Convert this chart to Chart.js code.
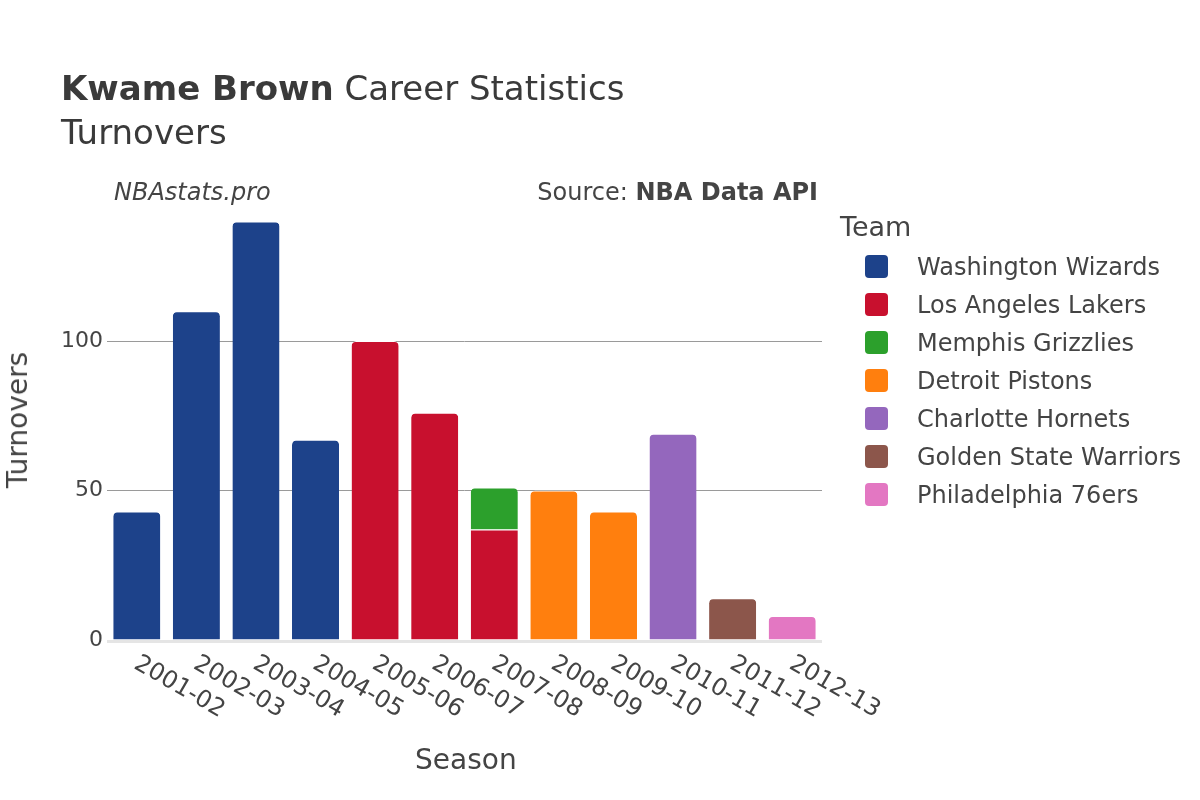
<!DOCTYPE html>
<html>
<head>
<meta charset="utf-8">
<script src="https://cdn.jsdelivr.net/npm/chart.js@4/dist/chart.umd.min.js"></script>
<style>
  body { margin: 0; background: #fff; font-family: "DejaVu Sans", sans-serif; color: #444; }
  #wrap { position: relative; width: 1200px; height: 800px; }
  #chart { position: absolute; left: 0; top: 0; }
  .txt { position: absolute; white-space: nowrap; line-height: 1; }
  .legend-row { position: absolute; left: 865px; height: 24px; }
  .legend-row .sw { position: absolute; left: 0; top: 0; width: 23px; height: 23px; border-radius: 4px; }
  .legend-row .lb { position: absolute; left: 52px; top: 0; font-size: 24px; line-height: 24px; color: #444; white-space: nowrap; }
</style>
</head>
<body>
<div id="wrap">
  <canvas id="chart" width="1200" height="800"></canvas>
  <div class="txt" style="left:61px; top:71px; font-size:34px; color:#3a3a3a;"><b>Kwame Brown</b> Career Statistics</div>
  <div class="txt" style="left:61px; top:115px; font-size:34px; color:#3a3a3a;">Turnovers</div>
  <div class="txt" style="left:114px; top:180px; font-size:24px; font-style:italic;">NBAstats.pro</div>
  <div class="txt" style="right:382px; top:180px; font-size:24px;">Source: <b>NBA Data API</b></div>
  <div class="txt" style="left:415px; top:746px; font-size:28px;">Season</div>
  <div class="txt" style="left:18px; top:420px; font-size:28px; transform: translate(-50%, -50%) rotate(-90deg);">Turnovers</div>
  <div class="txt" style="left:840px; top:213px; font-size:27px;">Team</div>
  <div id="legend"></div>
</div>
<script>
const seasons = ['2001-02', '2002-03', '2003-04', '2004-05', '2005-06', '2006-07',
  '2007-08', '2008-09', '2009-10', '2010-11', '2011-12', '2012-13'];

const teams = ['Washington Wizards', 'Los Angeles Lakers', 'Memphis Grizzlies', 'Detroit Pistons',
  'Charlotte Hornets', 'Golden State Warriors', 'Philadelphia 76ers'];

const teamColors = ['#1d428a', '#c8102e', '#2ca02c', '#ff7f0e', '#9467bd', '#8c564b', '#e377c2'];

// turnovers per season, one array per team (null = did not play for that team)
const wizards   = [43, 110, 140, 67, null, null, null, null, null, null, null, null];
const lakers    = [null, null, null, null, 100, 76, 37, null, null, null, null, null];
const grizzlies = [null, null, null, null, null, null, 14, null, null, null, null, null];
const pistons   = [null, null, null, null, null, null, null, 50, 43, null, null, null];
const hornets   = [null, null, null, null, null, null, null, null, null, 69, null, null];
const warriors  = [null, null, null, null, null, null, null, null, null, null, 14, null];
const sixers    = [null, null, null, null, null, null, null, null, null, null, null, 8];

const teamData = [wizards, lakers, grizzlies, pistons, hornets, warriors, sixers];

const yTicks = [0, 50, 100];

// legend
const legendEl = document.getElementById('legend');
teams.forEach((name, i) => {
  const row = document.createElement('div');
  row.className = 'legend-row';
  row.style.top = (255 + i * 38) + 'px';
  row.innerHTML = '<div class="sw" style="background:' + teamColors[i] + '"></div><div class="lb">' + name + '</div>';
  legendEl.appendChild(row);
});

// rotated season labels and the zero line
const seasonLabels = {
  id: 'seasonLabels',
  beforeDatasetsDraw(chart) {
    const ctx = chart.ctx;
    const area = chart.chartArea;
    const y0 = chart.scales.y.getPixelForValue(0);
    ctx.save();
    ctx.strokeStyle = '#e5e5e5';
    ctx.lineWidth = 3;
    ctx.beginPath();
    ctx.moveTo(area.left, y0 + 1.5);
    ctx.lineTo(area.right, y0 + 1.5);
    ctx.stroke();
    ctx.restore();
  },
  afterDraw(chart) {
    const ctx = chart.ctx;
    const xs = chart.scales.x;
    ctx.save();
    ctx.font = '24px "DejaVu Sans"';
    ctx.fillStyle = '#444';
    ctx.textAlign = 'left';
    ctx.textBaseline = 'middle';
    seasons.forEach((s, i) => {
      const x = xs.getPixelForValue(i);
      ctx.save();
      ctx.translate(x - 1, 662);
      ctx.rotate(Math.PI / 6);
      ctx.fillText(s, 0, 0);
      ctx.restore();
    });
    ctx.restore();
  }
};

new Chart(document.getElementById('chart'), {
  type: 'bar',
  data: {
    labels: seasons,
    datasets: teams.map((name, i) => ({
      label: name,
      data: teamData[i],
      backgroundColor: teamColors[i],
      borderColor: '#ffffff',
      borderWidth: { top: 1, left: 0, right: 0, bottom: 0 },
      borderSkipped: 'start',
      borderRadius: 5,
      categoryPercentage: 1,
      barPercentage: 0.79
    }))
  },
  options: {
    responsive: false,
    animation: false,
    events: [],
    layout: { padding: { left: 0, right: 378, top: 200, bottom: 160 } },
    plugins: { legend: { display: false }, title: { display: false }, tooltip: { enabled: false } },
    scales: {
      x: {
        stacked: true,
        grid: { display: false },
        border: { display: false },
        ticks: { display: false },
        afterFit(scale) { scale.height = 0; }
      },
      y: {
        stacked: true,
        min: 0,
        max: 147.2,
        afterFit(scale) { scale.width = 107; },
        afterBuildTicks(scale) { scale.ticks = yTicks.map(v => ({ value: v })); },
        border: { display: false },
        grid: {
          color: ctx => ctx.tick && ctx.tick.value === 0 ? 'rgba(0,0,0,0)' : '#9a9a9a',
          lineWidth: 1,
          drawTicks: false
        },
        ticks: {
          padding: 4,
          color: '#444',
          font: { family: 'DejaVu Sans', size: 22 }
        }
      }
    }
  },
  plugins: [seasonLabels]
});
</script>
</body>
</html>
